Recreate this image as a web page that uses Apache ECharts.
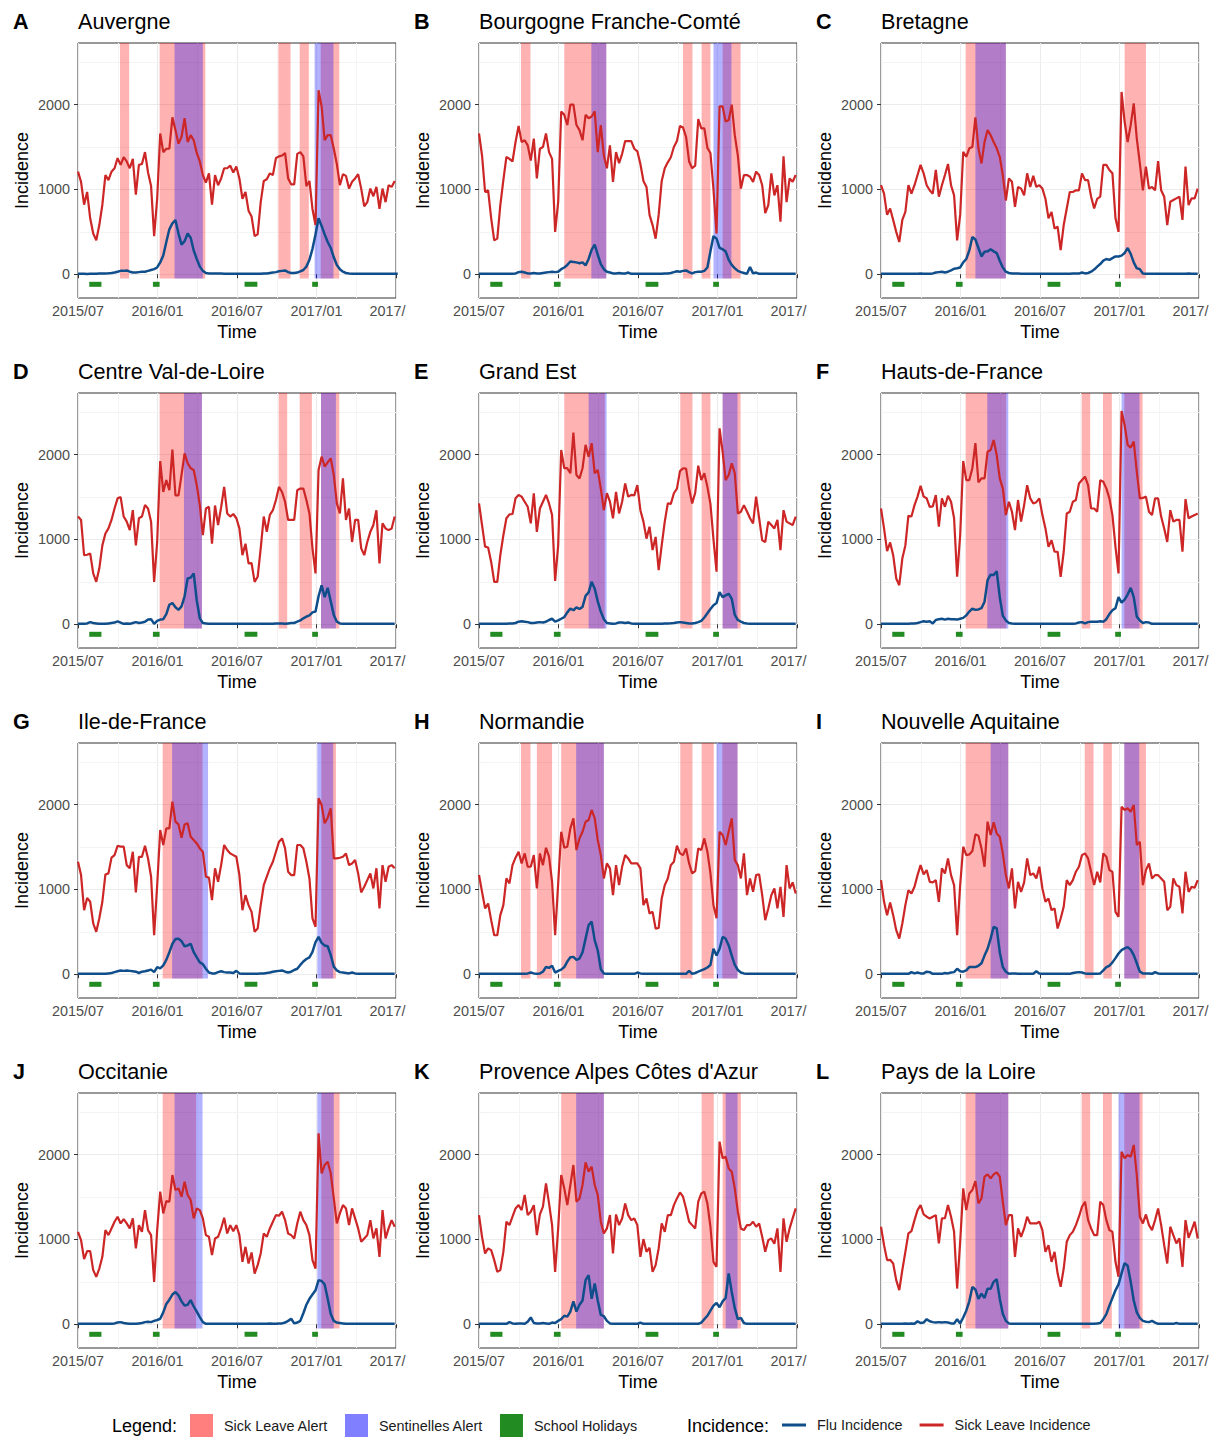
<!DOCTYPE html>
<html>
<head>
<meta charset="utf-8">
<script src="https://cdn.jsdelivr.net/npm/echarts@6/dist/echarts.min.js"></script>
<style>
html,body{margin:0;padding:0;background:#ffffff;}
#chart{width:1214px;height:1438px;}
</style>
</head>
<body>
<div id="chart"></div>
<script>
// ---------------- DATA ----------------
const REGIONS = ['Auvergne','Bourgogne Franche-Comté','Bretagne','Centre Val-de-Loire','Grand Est','Hauts-de-France','Ile-de-France','Normandie','Nouvelle Aquitaine','Occitanie',"Provence Alpes Côtes d'Azur",'Pays de la Loire'];
const LETTERS = ['A','B','C','D','E','F','G','H','I','J','K','L'];
const FIRST_WEEK = '2015-07-01';           // weekly series start
const X_TICK_LABELS = ['2015/07','2016/01','2016/07','2017/01','2017/'];
const Y_TICKS = [0, 1000, 2000];
const Y_MINOR = [500, 1500, 2500];
// periods are given in weeks since FIRST_WEEK
const SCHOOL_HOLIDAYS = [[3.7,7.7],[24.6,26.8],[54.7,58.9],[76.9,78.8]];

const sick_Auvergne = [1210,1090,820,970,660,480,400,580,820,1170,1110,1210,1250,1370,1290,1380,1330,1250,1360,940,1290,1300,1440,1200,1040,450,890,1660,1440,1480,1480,1850,1700,1540,1620,1840,1560,1640,1580,1430,1330,1170,1080,1190,820,1170,1050,1130,1250,1250,1280,1200,1270,1130,890,970,750,680,450,470,850,1100,1120,1190,1170,1370,1390,1400,1430,1130,1060,1060,1420,1440,1390,1040,1100,770,580,2170,1980,1580,1640,1640,1480,1300,1050,1180,1160,1010,1090,1130,1180,1010,800,850,1010,920,1030,770,1010,850,1050,1030,1100];
const flu_Auvergne = [5,5,5,3,5,5,5,8,10,10,12,15,20,30,40,40,45,30,20,20,25,30,30,40,50,60,80,140,220,380,530,600,640,480,350,390,480,430,280,180,90,40,15,10,10,8,8,8,6,6,5,5,5,5,5,5,5,5,5,5,5,8,10,15,20,25,35,40,45,25,15,15,20,35,50,90,170,300,470,660,570,470,380,310,200,110,60,30,15,8,5,5,5,5,5,5,5,5,5,5,5,5,5,5,5,5];
const alertSick_Auvergne = [[13.8,16.8],[26.8,41.8],[65.8,69.8],[72.8,75.8],[79.7,85.8]];
const alertSent_Auvergne = [[31.7,41.0],[77.7,83.9]];

const sick_Bourgogne = [1660,1400,970,990,660,400,420,815,1110,1385,1360,1330,1560,1750,1560,1580,1520,1340,1600,1130,1480,1500,1660,1440,1360,500,850,1920,1880,1760,2000,2000,1760,1700,1580,1880,1840,1860,1920,1440,1760,1400,1250,1520,1090,1440,1310,1420,1570,1570,1570,1480,1450,1300,1100,1030,700,580,420,700,1100,1250,1320,1380,1500,1570,1750,1730,1620,1330,1250,1280,1830,1720,1720,1490,1430,1000,480,1980,1980,1800,1820,2000,1640,1400,1010,1170,1170,1150,1090,1210,1170,1050,720,815,1190,930,1050,620,1390,850,1130,1090,1170];
const flu_Bourgogne = [5,5,5,5,5,5,5,5,5,5,5,5,10,25,30,20,10,10,15,10,10,15,20,25,30,25,30,60,80,110,150,145,140,130,140,105,180,290,350,230,120,60,30,20,10,10,15,10,8,20,5,5,5,5,5,5,5,5,5,5,5,10,10,15,25,35,30,40,45,25,10,25,30,30,40,80,270,450,420,310,295,270,170,110,70,40,25,15,5,85,10,20,5,5,5,5,5,5,5,5,5,5,5,5,5];
const alertSick_Bourgogne = [[13.8,16.9],[28.0,41.8],[67.0,70.1],[73.1,76.0],[80.0,85.9]];
const alertSent_Bourgogne = [[36.9,41.8],[77.0,82.9]];

const sick_Bretagne = [1050,950,700,775,640,500,380,640,735,1050,950,1050,1170,1290,1190,1050,990,950,1230,915,1050,1170,1300,1050,930,400,700,1445,1385,1485,1500,1850,1485,1307,1560,1700,1640,1560,1485,1385,1170,870,1130,1090,795,1030,1010,930,1190,1030,1160,1030,1050,1010,890,660,735,540,560,285,580,775,970,970,990,990,1190,1110,1110,915,775,890,915,1290,1290,1230,1190,660,500,2150,1800,1560,1760,2015,1600,1307,990,1270,1010,1030,990,1335,990,915,580,855,875,895,915,640,1270,815,895,895,1010];
const flu_Bretagne = [5,5,5,5,5,5,5,5,5,5,5,5,5,8,5,5,5,10,20,25,30,20,30,45,65,70,80,140,180,280,440,410,310,210,265,270,295,270,250,160,80,30,15,10,8,8,5,5,5,5,5,5,5,5,5,5,5,5,5,5,5,5,5,8,10,8,20,10,15,30,55,90,120,160,180,170,190,210,210,220,250,310,240,140,70,60,10,5,5,5,5,5,5,5,5,5,5,5,5,5,5,10,5,5,5];
const alertSick_Bretagne = [[27.8,41.0],[80.0,87.0]];
const alertSent_Bretagne = [[31.0,41.0]];

const sick_Centre = [1270,1230,815,820,835,600,500,660,930,1070,1130,1230,1365,1485,1500,1270,1210,1110,1345,930,1250,1270,1405,1365,1210,500,970,1925,1560,1700,1580,2060,1520,1520,1760,2015,1900,1840,1820,1640,1405,1050,1365,1385,950,1400,1170,1380,1620,1307,1270,1300,1250,1130,815,950,717,720,500,560,895,1270,1090,1290,1345,1465,1620,1560,1445,1230,1230,1230,1580,1600,1600,1465,1307,895,600,1820,1976,1860,1910,1957,1760,1425,1307,1720,1230,1365,970,1230,1230,895,815,970,1090,1170,1345,717,1190,1130,1110,1130,1270];
const flu_Centre = [5,5,5,10,25,15,10,5,5,5,10,15,20,35,20,5,10,5,15,25,15,20,30,55,60,5,40,55,60,120,230,250,200,170,210,330,540,550,600,280,70,15,10,5,5,5,5,5,5,5,5,5,5,5,5,5,5,5,5,5,5,5,5,5,5,10,10,10,5,10,15,15,30,45,70,90,105,140,150,330,460,320,430,270,110,30,10,5,5,5,5,5,5,5,5,5,5,5,5,5,5,5,5,5,5];
const alertSick_Centre = [[26.8,40.7],[65.9,68.7],[72.8,76.8],[79.8,85.8]];
const alertSent_Centre = [[34.8,40.7],[79.8,84.7]];

const sick_GrandEst = [1425,1170,915,905,735,500,500,815,1050,1250,1295,1300,1485,1525,1505,1445,1385,1190,1545,1090,1365,1445,1525,1425,1287,510,930,2055,1840,1840,1780,2260,1760,1720,1840,2115,1976,2135,1780,1820,1600,1345,1545,1445,1250,1560,1307,1445,1660,1505,1525,1520,1640,1345,1210,1010,1150,875,1030,638,930,1210,1425,1420,1545,1600,1806,1840,1835,1600,1425,1550,1870,1700,1780,1620,1420,1000,620,2310,2035,1700,1760,1898,1780,1307,1327,1405,1330,1250,1190,1505,1250,990,970,1210,1170,1130,1230,875,1345,1210,1190,1170,1270];
const flu_GrandEst = [5,5,5,5,5,5,5,5,5,5,10,10,15,30,35,30,25,15,15,20,25,20,30,50,65,30,45,65,85,140,185,165,200,180,205,335,375,500,420,270,150,60,15,10,5,10,20,20,15,20,10,5,5,5,5,5,5,5,5,5,5,8,10,12,15,20,25,20,15,10,10,15,25,40,80,130,180,225,250,380,320,340,360,300,110,50,30,15,8,5,5,5,5,5,5,5,5,5,5,5,5,5,5,5,5];
const alertSick_GrandEst = [[28.0,41.3],[66.1,70.1],[73.1,76.0],[80.0,85.9]];
const alertSent_GrandEst = [[36.0,41.9],[80.0,84.9]];

const sick_Hauts = [1365,1130,862,965,815,540,460,775,930,1280,1270,1405,1505,1634,1505,1485,1385,1390,1524,1150,1485,1385,1515,1445,1250,560,1050,1925,1700,1700,1840,2135,1673,1720,1720,2035,2055,2173,1996,1720,1602,1287,1445,1327,1110,1465,1210,1405,1640,1485,1425,1440,1485,1287,1130,913,990,855,855,560,855,1307,1327,1445,1465,1660,1700,1740,1640,1365,1365,1327,1700,1680,1602,1485,1287,913,600,2515,2350,2115,2083,2154,1800,1485,1490,1505,1327,1287,1485,1485,1270,1130,970,1345,1210,1230,1230,855,1476,1250,1270,1287,1307];
const flu_Hauts = [5,5,5,5,5,5,5,5,5,5,8,10,15,25,35,30,35,10,50,60,65,55,65,60,60,55,65,75,105,150,185,170,175,190,265,520,585,580,625,320,100,45,15,8,5,5,5,5,5,5,5,5,5,5,5,5,5,5,5,5,5,5,5,5,10,20,25,10,25,30,30,30,35,30,60,120,165,190,320,255,290,350,430,320,90,45,15,25,20,5,5,5,5,5,5,5,5,5,5,5,5,5,5,5,5];
const alertSick_Hauts = [[27.8,41.1],[65.9,68.7],[72.9,75.8],[79.9,85.9]];
const alertSent_Hauts = [[34.9,41.8],[79.0,84.9]];

const sick_IDF = [1327,1170,755,900,855,600,500,660,855,1177,1190,1375,1405,1515,1505,1505,1287,1250,1445,965,1385,1385,1515,1365,1150,460,1050,1700,1524,1720,1720,2035,1800,1767,1610,1767,1780,1622,1583,1543,1484,1445,1150,1140,875,1250,1090,1287,1524,1465,1425,1405,1385,1170,755,933,815,736,500,540,815,1050,1150,1250,1327,1445,1563,1602,1485,1209,1170,1170,1524,1524,1485,1327,1130,658,560,2075,1996,1780,1846,1957,1366,1366,1374,1386,1425,1287,1307,1346,1189,965,1031,1110,1189,1012,1250,776,1287,1090,1268,1287,1250];
const flu_IDF = [5,5,5,5,5,5,5,5,5,5,10,15,25,35,45,40,45,40,35,30,15,30,35,45,55,25,85,70,105,170,260,360,415,420,390,330,340,360,260,200,140,120,65,20,10,10,25,35,25,20,20,15,40,10,5,5,5,5,5,5,10,10,15,20,30,35,40,45,30,20,30,50,65,110,150,180,200,265,380,440,370,340,330,225,90,45,25,20,15,10,20,10,5,5,5,5,5,5,5,5,5,5,5,5,5];
const alertSick_IDF = [[27.8,40.9],[79.9,84.7]];
const alertSent_IDF = [[30.9,42.7],[78.6,83.8]];

const sick_Normandie = [1170,972,775,835,638,460,460,697,815,1130,1071,1287,1375,1445,1307,1425,1268,1268,1405,1012,1425,1287,1492,1386,1090,460,1071,1681,1492,1504,1720,1838,1465,1602,1681,1799,1819,1937,1838,1583,1405,1130,1307,1248,933,1287,1051,1268,1405,1366,1307,1307,1307,1248,815,894,717,736,539,545,894,1051,1130,1287,1327,1516,1425,1405,1484,1307,1189,1216,1484,1465,1602,1445,1189,815,660,1681,1642,1524,1681,1838,1346,1287,1130,1425,933,1130,972,1170,1177,933,638,776,933,1012,776,1031,677,1287,1012,1083,953];
const flu_Normandie = [5,5,5,5,5,5,5,5,5,5,5,5,5,5,5,5,10,20,10,5,10,30,85,75,100,20,40,55,85,150,200,205,170,185,260,420,580,620,400,280,60,10,5,5,5,5,5,5,5,5,5,5,20,10,5,5,5,5,5,5,5,5,5,5,5,5,5,5,5,40,5,15,30,45,60,80,110,300,220,300,440,420,340,220,110,50,20,10,5,5,5,5,5,5,5,5,5,5,5,5,5,5,5,5,5];
const alertSick_Normandie = [[13.8,16.9],[19.0,24.0],[27.0,41.0],[66.1,70.1],[73.1,77.1],[79.9,84.9]];
const alertSent_Normandie = [[31.9,41.0],[78.0,84.9]];

const sick_Aquitaine = [1110,854,697,846,697,520,421,598,815,992,953,1031,1169,1287,1177,1228,1090,1083,1110,854,1248,1189,1366,1169,1051,460,1051,1504,1405,1413,1453,1650,1634,1484,1268,1799,1642,1791,1661,1622,1425,1169,1012,1248,776,1090,972,1083,1366,1169,1189,1130,1268,1012,854,894,756,776,539,657,795,1110,1051,1110,1209,1268,1405,1425,1366,1209,1051,1209,1083,1425,1386,1228,1209,736,677,1976,1937,1957,1917,1996,1524,1563,1051,1228,1307,1130,1169,1169,1130,1090,756,795,1130,1051,1031,717,1209,972,1031,1020,1110];
const flu_Aquitaine = [5,5,5,5,5,5,5,5,5,5,25,10,20,10,10,30,25,5,5,5,5,15,10,20,25,65,35,30,45,85,85,85,100,130,220,300,420,560,540,260,85,30,5,8,10,5,5,5,5,5,5,35,10,5,5,5,5,5,5,5,5,5,5,15,20,25,20,10,5,5,5,5,10,45,85,100,140,190,245,285,305,320,290,225,130,30,10,10,10,5,25,10,5,5,5,5,5,5,5,5,5,5,5,5,5];
const alertSick_Aquitaine = [[27.8,41.8],[66.9,69.8],[73.0,75.8],[79.9,87.0]];
const alertSent_Aquitaine = [[36.0,41.8],[79.9,84.8]];

const sick_Occitanie = [1090,992,768,862,862,638,559,657,795,1110,1051,1130,1209,1268,1189,1240,1190,1130,1248,894,1169,1090,1346,1110,1051,500,1110,1563,1307,1453,1445,1760,1583,1602,1504,1681,1524,1465,1248,1366,1346,1248,1051,1031,815,1012,1031,1130,1256,1071,1169,1098,1169,1051,736,913,717,846,598,697,835,1071,1031,1130,1209,1287,1280,1327,1228,1071,1051,1012,1189,1327,1228,1169,1051,756,657,2252,1780,1878,1917,1780,1484,1189,1307,1405,1366,1169,1366,1248,1130,972,1012,1051,1228,1012,1130,795,1346,1012,1130,1228,1150];
const flu_Occitanie = [5,5,5,5,5,5,5,5,5,5,5,5,10,20,25,15,10,5,5,5,10,15,25,30,25,40,50,65,140,240,290,350,380,340,270,220,230,285,210,150,85,25,5,5,5,5,5,5,5,5,5,5,5,5,5,5,5,5,5,5,5,5,5,10,5,5,10,10,20,40,65,10,20,40,130,230,300,350,400,520,510,470,300,120,40,20,15,10,5,5,5,5,5,5,5,5,5,5,5,5,5,5,5,5,5];
const alertSick_Occitanie = [[27.8,38.8],[79.9,85.9]];
const alertSent_Occitanie = [[31.7,40.9],[78.6,84.0]];

const sick_PACA = [1287,1031,835,894,874,756,618,638,854,1209,1169,1268,1366,1405,1346,1524,1287,1327,1405,1051,1295,1386,1661,1425,1169,618,1130,1760,1602,1405,1642,1878,1445,1484,1642,1909,1799,1858,1642,1524,1209,1071,1130,1287,835,1295,1169,1248,1425,1287,1228,1248,1169,795,1004,854,902,618,697,894,1189,1090,1287,1287,1405,1484,1555,1504,1366,1209,1169,1130,1445,1543,1563,1425,1150,736,677,2154,1957,1976,1838,1799,1602,1327,1130,1110,1169,1169,1209,1150,1189,1031,854,992,1012,950,1130,618,1248,972,1130,1248,1366];
const flu_PACA = [5,5,5,5,5,5,5,5,5,5,25,10,5,10,10,5,30,80,15,10,10,15,10,5,20,15,40,60,100,90,150,270,150,230,280,520,580,300,480,280,110,95,40,10,5,5,5,5,5,5,5,5,5,20,5,5,5,5,5,5,5,5,5,5,5,5,5,5,5,5,5,5,5,20,60,100,160,220,250,200,270,310,600,380,190,60,75,15,5,5,5,5,5,5,5,5,5,5,5,5,5,5,5,5,5];
const alertSick_PACA = [[27.0,41.0],[73.1,77.1],[80.0,86.0]];
const alertSent_PACA = [[31.9,41.0],[81.0,84.9]];

const sick_Loire = [1150,933,756,760,717,520,402,638,854,1071,1098,1228,1346,1405,1295,1268,1248,1268,1287,953,1248,1250,1405,1268,1090,421,972,1602,1346,1543,1583,1689,1425,1484,1740,1767,1720,1767,1791,1740,1445,1169,1287,1287,795,1130,1031,1130,1268,1189,1189,1189,1209,1110,854,933,736,854,598,441,657,972,1051,1090,1169,1268,1386,1445,1228,1130,1051,1051,1445,1405,1228,1110,1090,736,560,2035,1957,1996,1976,2114,1760,1268,1189,1295,1169,1110,1228,1366,1169,933,717,1150,1051,953,1012,677,1228,1020,1110,1209,1012];
const flu_Loire = [5,5,5,5,5,5,5,5,8,5,10,5,35,15,20,60,35,25,20,25,20,25,20,10,10,60,10,80,160,270,440,410,300,360,310,420,420,500,530,300,125,40,10,5,5,5,5,5,5,5,5,5,5,5,5,5,5,5,5,5,5,5,5,5,5,5,5,5,5,5,5,10,15,60,120,220,310,400,470,600,720,690,500,280,140,75,40,30,25,40,20,5,5,5,5,5,5,15,5,5,5,5,5,5,5];
const alertSick_Loire = [[27.8,41.8],[65.9,68.7],[72.9,75.8],[79.9,85.9]];
const alertSent_Loire = [[31.0,41.8],[78.0,84.9]];

const SICK = [sick_Auvergne, sick_Bourgogne, sick_Bretagne, sick_Centre, sick_GrandEst, sick_Hauts, sick_IDF, sick_Normandie, sick_Aquitaine, sick_Occitanie, sick_PACA, sick_Loire];
const FLU = [flu_Auvergne, flu_Bourgogne, flu_Bretagne, flu_Centre, flu_GrandEst, flu_Hauts, flu_IDF, flu_Normandie, flu_Aquitaine, flu_Occitanie, flu_PACA, flu_Loire];
const ALERT_SICK = [alertSick_Auvergne, alertSick_Bourgogne, alertSick_Bretagne, alertSick_Centre, alertSick_GrandEst, alertSick_Hauts, alertSick_IDF, alertSick_Normandie, alertSick_Aquitaine, alertSick_Occitanie, alertSick_PACA, alertSick_Loire];
const ALERT_SENT = [alertSent_Auvergne, alertSent_Bourgogne, alertSent_Bretagne, alertSent_Centre, alertSent_GrandEst, alertSent_Hauts, alertSent_IDF, alertSent_Normandie, alertSent_Aquitaine, alertSent_Occitanie, alertSent_PACA, alertSent_Loire];

// ---------------- LAYOUT / STYLE ----------------
const FONT = "'Liberation Sans', Arial, Helvetica, sans-serif";
const COL_LEFT = [78, 479, 881];
const ROW_TOP = [43, 393, 743, 1093];
const PW = 318, PH = 255;
const Y_MIN = -280, Y_MAX = 2727;
const DAY_MAX = 731;                 // 2015-07-01 .. 2017-07-01
const X_INTERVAL = DAY_MAX / 4;
const SHADE_BOTTOM = -50;
const HOL_LOW = -148, HOL_HIGH = -89;
const COL_SICK_LINE = '#CD2626', COL_FLU_LINE = '#104E8B';
const COL_SICK_FILL = 'rgba(255,0,0,0.30)', COL_SENT_FILL = 'rgba(0,0,255,0.30)';
const COL_HOL = '#228B22';

const weekDays = w => w * 7; // weeks -> days since FIRST_WEEK

function rectRenderer(color) {
  return function (params, api) {
    const p1 = api.coord([api.value(0), api.value(3)]);
    const p2 = api.coord([api.value(1), api.value(2)]);
    return {
      type: 'rect',
      shape: { x: p1[0], y: p1[1], width: p2[0] - p1[0], height: p2[1] - p1[1] },
      style: { fill: color }
    };
  };
}

const grids = [], xAxes = [], yAxes = [], series = [], titles = [];

REGIONS.forEach((name, i) => {
  const c = i % 3, r = Math.floor(i / 3);
  const left = COL_LEFT[c], top = ROW_TOP[r];
  grids.push({ left: left, top: top, width: PW, height: PH, show: true,
    borderColor: '#333333', borderWidth: 1, backgroundColor: '#ffffff',
    containLabel: false, outerBoundsMode: 'none' });
  xAxes.push({
    gridIndex: i, type: 'value', min: 0, max: DAY_MAX, interval: X_INTERVAL,
    axisLine: { show: false },
    axisTick: { show: true, length: 4, lineStyle: { color: '#333333', width: 1 } },
    axisLabel: { show: true, showMinLabel: true, showMaxLabel: true, margin: 6, fontSize: 14.4, color: '#4D4D4D', fontFamily: FONT,
      formatter: v => { const k = Math.round(v / X_INTERVAL); return k === 4 ? '{clip|' + X_TICK_LABELS[k] + '}' : X_TICK_LABELS[k]; },
      rich: { clip: { fontSize: 14.4, color: '#4D4D4D', fontFamily: FONT, padding: [0, 17, 0, 0] } } },
    splitLine: { show: true, lineStyle: { color: '#EBEBEB', width: 1.1 } },
    minorTick: { show: false, splitNumber: 2 },
    minorSplitLine: { show: true, lineStyle: { color: '#F4F4F4', width: 1 } },
    name: 'Time', nameLocation: 'middle', nameGap: 25, nameMoveOverlap: false,
    nameTextStyle: { fontSize: 18, color: '#000000', fontFamily: FONT }
  });
  yAxes.push({
    gridIndex: i, type: 'value', min: Y_MIN, max: Y_MAX,
    axisLine: { show: false },
    axisTick: { show: true, length: 4, customValues: Y_TICKS, lineStyle: { color: '#333333', width: 1 } },
    axisLabel: { show: true, customValues: Y_TICKS, margin: 8, fontSize: 14.4, color: '#4D4D4D', fontFamily: FONT,
      formatter: v => String(Math.round(v)) },
    splitLine: { show: true, lineStyle: { color: '#EBEBEB', width: 1.1 } },
    minorSplitLine: { show: false },
    name: 'Incidence', nameLocation: 'middle', nameGap: 47, nameMoveOverlap: false,
    nameTextStyle: { fontSize: 18, color: '#000000', fontFamily: FONT }
  });
  titles.push({ text: LETTERS[i], left: left - 65, top: top - 33, padding: 0,
    textStyle: { fontSize: 21.6, fontWeight: 'bold', color: '#000000', fontFamily: FONT } });
  titles.push({ text: name, left: left, top: top - 33, padding: 0,
    textStyle: { fontSize: 21.6, fontWeight: 'normal', color: '#000000', fontFamily: FONT } });

  // minor horizontal grid lines (kept beneath everything else)
  series.push({ type: 'line', xAxisIndex: i, yAxisIndex: i, data: [], silent: true, z: 0,
    markLine: { silent: true, z: 0, symbol: ['none', 'none'], label: { show: false }, animation: false,
      lineStyle: { color: '#F4F4F4', width: 1, type: 'solid' },
      emphasis: { disabled: true },
      data: Y_MINOR.map(v => ({ yAxis: v })) } });
  // alert shading
  series.push({ type: 'custom', name: 'Sick Leave Alert', xAxisIndex: i, yAxisIndex: i, z: 2, silent: true, clip: true,
    renderItem: rectRenderer(COL_SICK_FILL), encode: { x: [0, 1], y: [2, 3] },
    itemStyle: { color: COL_SICK_FILL },
    data: ALERT_SICK[i].map(p => [weekDays(p[0]), weekDays(p[1]), SHADE_BOTTOM, Y_MAX]) });
  series.push({ type: 'custom', name: 'Sentinelles Alert', xAxisIndex: i, yAxisIndex: i, z: 2, silent: true, clip: true,
    renderItem: rectRenderer(COL_SENT_FILL), encode: { x: [0, 1], y: [2, 3] },
    itemStyle: { color: COL_SENT_FILL },
    data: ALERT_SENT[i].map(p => [weekDays(p[0]), weekDays(p[1]), SHADE_BOTTOM, Y_MAX]) });
  series.push({ type: 'custom', name: 'School Holidays', xAxisIndex: i, yAxisIndex: i, z: 2, silent: true, clip: true,
    renderItem: rectRenderer(COL_HOL), encode: { x: [0, 1], y: [2, 3] },
    itemStyle: { color: COL_HOL },
    data: SCHOOL_HOLIDAYS.map(p => [weekDays(p[0]), weekDays(p[1]), HOL_LOW, HOL_HIGH]) });
  // incidence lines
  series.push({ type: 'line', name: 'Sick Leave Incidence', xAxisIndex: i, yAxisIndex: i, z: 3,
    showSymbol: false, symbol: 'none', silent: true,
    lineStyle: { color: COL_SICK_LINE, width: 2.2 }, itemStyle: { color: COL_SICK_LINE },
    data: SICK[i].map((v, k) => [weekDays(k), v]) });
  series.push({ type: 'line', name: 'Flu Incidence', xAxisIndex: i, yAxisIndex: i, z: 4,
    showSymbol: false, symbol: 'none', silent: true,
    lineStyle: { color: COL_FLU_LINE, width: 2.5 }, itemStyle: { color: COL_FLU_LINE },
    data: FLU[i].map((v, k) => [weekDays(k), v]) });
});

const option = {
  animation: false,
  backgroundColor: '#ffffff',
  textStyle: { fontFamily: FONT },
  title: titles,
  grid: grids,
  xAxis: xAxes,
  yAxis: yAxes,
  legend: [
    { left: 190, top: 1414, orient: 'horizontal', itemWidth: 23, itemHeight: 23, itemGap: 17, icon: 'rect',
      selectedMode: false, padding: 0,
      textStyle: { fontSize: 14.4, color: '#1A1A1A', fontFamily: FONT, padding: [0, 0, 0, 6] },
      data: [
        { name: 'Sick Leave Alert', itemStyle: { color: 'rgba(255,0,0,0.5)' } },
        { name: 'Sentinelles Alert', itemStyle: { color: 'rgba(0,0,255,0.5)' } },
        { name: 'School Holidays', itemStyle: { color: COL_HOL } }
      ] },
    { left: 782, top: 1418, orient: 'horizontal', itemWidth: 24, itemHeight: 3, itemGap: 17, icon: 'rect',
      selectedMode: false, padding: 0,
      textStyle: { fontSize: 14.4, color: '#1A1A1A', fontFamily: FONT, padding: [0, 0, 0, 6] },
      data: [
        { name: 'Flu Incidence', itemStyle: { color: COL_FLU_LINE } },
        { name: 'Sick Leave Incidence', itemStyle: { color: COL_SICK_LINE } }
      ] }
  ],
  graphic: [
    { type: 'text', left: 112, top: 1417, style: { text: 'Legend:', font: '18px ' + FONT, fill: '#000000' } },
    { type: 'text', left: 687, top: 1417, style: { text: 'Incidence:', font: '18px ' + FONT, fill: '#000000' } }
  ],
  series: series
};

const chart = echarts.init(document.getElementById('chart'), null, { renderer: 'svg', width: 1214, height: 1438 });
chart.setOption(option);
</script>
</body>
</html>
